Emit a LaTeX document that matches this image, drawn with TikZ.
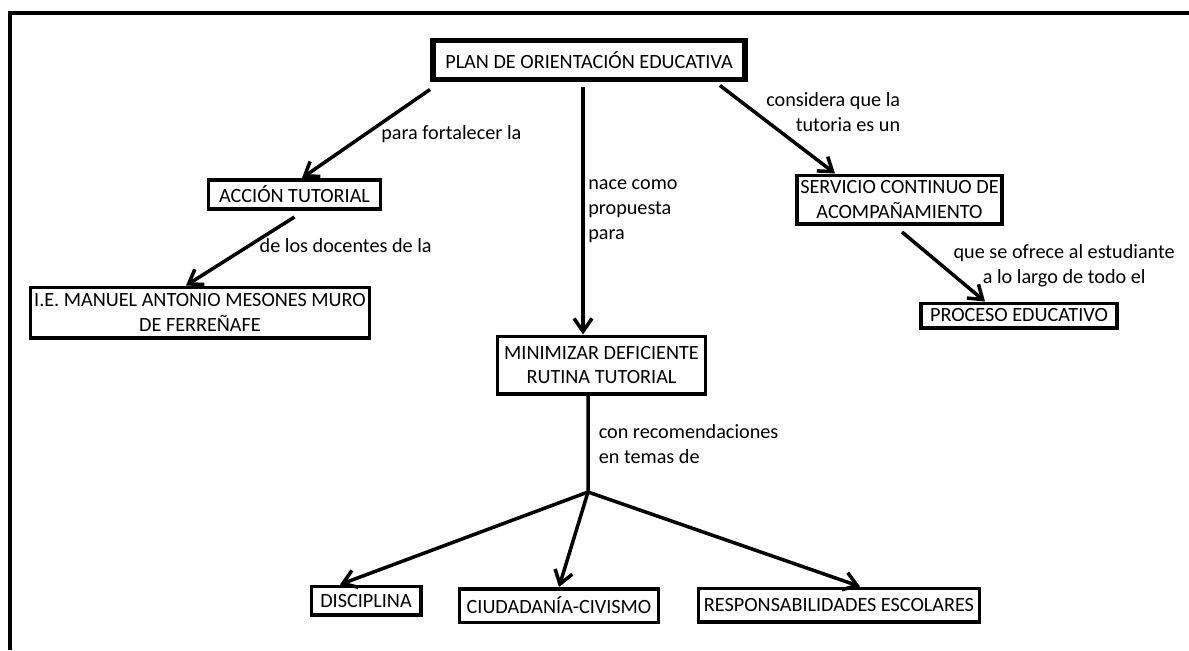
\documentclass[tikz,border=0pt]{standalone}
\usepackage{fontspec}
\setmainfont{Carlito}
\usepackage{tikz}
\usetikzlibrary{arrows.meta}
\tikzset{
  concept/.style={rectangle, draw, line width=2pt, fill=white, align=center, inner sep=2pt, font=\fontsize{11.5}{14.2}\selectfont},
  mainconcept/.style={concept, line width=3.4pt},
  link/.style={-{Straight Barb[length=2.6mm,width=3.6mm]}, line width=2pt},
  linklabel/.style={font=\fontsize{11.5}{14.2}\selectfont, inner sep=2pt},
}

\begin{document}
\begin{tikzpicture}[x=0.02cm, y=-0.02cm]
  \useasboundingbox (0,0) rectangle (1189,650);
  \draw[line width=2.3pt] (1189,13) -- (10,13) -- (10,650);

  \node[mainconcept, minimum width=6.24cm, minimum height=0.78cm] (plan) at (589,60) {PLAN DE ORIENTACIÓN EDUCATIVA};
  \node[concept, minimum width=3.45cm, minimum height=0.59cm] (accion) at (294.5,194.5) {ACCIÓN TUTORIAL};
  \node[concept, minimum width=6.79cm, minimum height=1.01cm] (ie) at (200,312.5) {I.E. MANUEL ANTONIO MESONES MURO\\DE FERREÑAFE};
  \node[concept, minimum width=4.01cm, minimum height=0.97cm] (servicio) at (899.5,199.5) {SERVICIO CONTINUO DE\\ACOMPAÑAMIENTO};
  \node[concept, minimum width=3.93cm, minimum height=0.49cm] (proceso) at (1019,315.5) {PROCESO EDUCATIVO};
  \node[concept, minimum width=4.17cm, minimum height=1.15cm] (minimizar) at (601.5,365) {MINIMIZAR DEFICIENTE\\RUTINA TUTORIAL};
  \node[concept, minimum width=2.19cm, minimum height=0.57cm] (disciplina) at (366,600.5) {DISCIPLINA};
  \node[concept, minimum width=3.99cm, minimum height=0.67cm] (ciudadania) at (559,605.5) {CIUDADANÍA-CIVISMO};
  \node[concept, minimum width=5.63cm, minimum height=0.67cm] (respons) at (839,605) {RESPONSABILIDADES ESCOLARES};

  \coordinate (planfoot) at ([xshift=-0.12cm, yshift=-0.1cm]plan.south);
  \coordinate (hub) at (588,492);

  \draw[link] ([yshift=-0.14cm]plan.south west) -- ([xshift=0.15cm]accion.north)
    node[linklabel, pos=0.5, anchor=west, xshift=0.2cm] {para fortalecer la};
  \draw[link] (planfoot) -- (planfoot |- minimizar.north)
    node[linklabel, pos=0.5, anchor=west, align=left] {nace como\\propuesta\\para};
  \draw[link] ([xshift=-0.56cm, yshift=-0.06cm]plan.south east) -- ([xshift=0.8cm]servicio.north west)
    node[linklabel, pos=0.3, anchor=west, align=right, xshift=0.13cm] {considera que la\\tutoria es un};
  \draw[link] ([yshift=-0.12cm]accion.south) -- ([xshift=-0.28cm]ie.north)
    node[linklabel, pos=0.42, anchor=west, xshift=0.11cm] {de los docentes de la};
  \draw[link] ([xshift=0.05cm, yshift=-0.13cm]servicio.south) -- ([xshift=-0.68cm]proceso.north)
    node[linklabel, pos=0.48, anchor=west, align=center, xshift=0.13cm] {que se ofrece al estudiante\\a lo largo de todo el};
  \draw[line width=2pt] ([xshift=-0.27cm]minimizar.south) -- (hub)
    node[linklabel, pos=0.5, anchor=west, align=left, xshift=0.11cm] {con recomendaciones\\en temas de};

  \draw[link] (hub) -- ([xshift=-0.52cm]disciplina.north);
  \draw[link] (hub) -- (ciudadania.north);
  \draw[link] (hub) -- ([xshift=0.42cm]respons.north);
\end{tikzpicture}
\end{document}
